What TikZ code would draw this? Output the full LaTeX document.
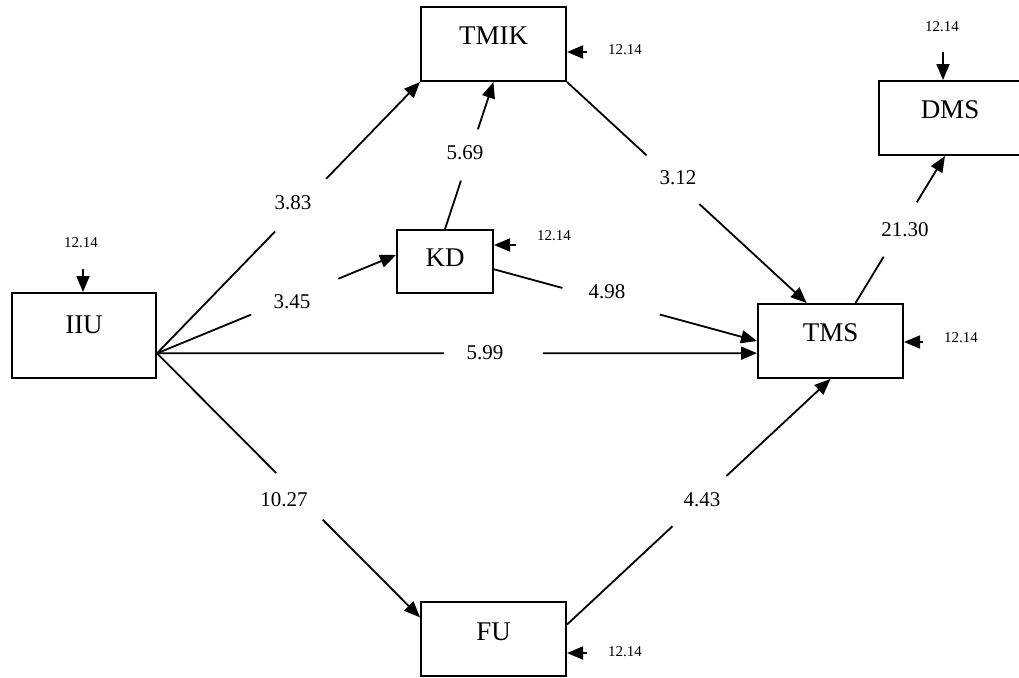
\documentclass[tikz,border=0pt]{standalone}
\usepackage{fontspec}
\setmainfont{Liberation Serif}
\usetikzlibrary{arrows.meta,calc}
\begin{document}
\begin{tikzpicture}[x=1pt,y=-1pt,
  box/.style={draw, line width=2pt, rectangle, inner sep=0pt,
    minimum width=145pt, minimum height=74pt, text height=18pt,
    font=\fontsize{27}{27}\selectfont},
  tip/.style={-{Triangle[length=16pt,width=13pt]}},
  conn/.style={line width=1.8pt, tip},
  num/.style={inner sep=0pt, font=\fontsize{21}{21}\selectfont},
  err/.style={inner sep=0pt, font=\fontsize{15}{15}\selectfont}]
\useasboundingbox (0,0) rectangle (1019,677);

% variables
\node[box, text depth=16pt] (TMIK) at (493.5,44) {TMIK};
\node[box, text depth=16.6pt, minimum width=142pt] (DMS) at (950,118) {DMS};
\node[box, text depth=8pt, minimum width=96pt, minimum height=63pt] (KD) at (445,261.5) {KD};
\node[box, text depth=22pt, minimum width=144pt, minimum height=85pt] (IIU) at (84,335.5) {IIU};
\node[box, text depth=18pt] (TMS) at (830.5,341) {TMS};
\node[box, text depth=15.4pt] (FU) at (493.5,639) {FU};

% attachment points on the box edges
\coordinate (o) at ($(IIU.east)!0.41!(IIU.south east)$);
\coordinate (kdIn) at ($(KD.west)!0.2!(KD.north west)$);
\coordinate (tmsInH) at ($(TMS.west)!0.32!(TMS.south west)$);
\coordinate (fuIn) at ($(FU.north west)!0.43!(FU.west)$);
\coordinate (tmsInTop) at ($(TMS.north west)!0.676!(TMS.north)$);
\coordinate (kdOut) at ($(KD.east)!0.24!(KD.south east)$);
\coordinate (fuOut) at ($(FU.east)!0.38!(FU.north east)$);
\coordinate (tmsOut) at ($(TMS.north)!0.34!(TMS.north east)$);
\coordinate (dmsIn) at ($(DMS.south west)!0.93!(DMS.south)$);

% path coefficients (each line is broken where its value sits)
\draw[conn] (o) -- ($(o)!0.449!(TMIK.south west)$) ($(o)!0.643!(TMIK.south west)$) -- (TMIK.south west);
\node[num] (l383) at (293,203) {3.83};

\draw[conn] (o) -- ($(o)!0.394!(kdIn)$) ($(o)!0.759!(kdIn)$) -- (kdIn);
\node[num] (l345) at (292,302) {3.45};

\draw[conn] (o) -- ($(o)!0.478!(tmsInH)$) ($(o)!0.643!(tmsInH)$) -- (tmsInH);
\node[num] (l599) at (485,353) {5.99};

\draw[conn] (o) -- ($(o)!0.453!(fuIn)$) ($(o)!0.63!(fuIn)$) -- (fuIn);
\node[num] (l1027) at (284,500) {10.27};

\draw[conn] (KD.north) -- ($(KD.north)!0.329!(TMIK.south)$) ($(KD.north)!0.678!(TMIK.south)$) -- (TMIK.south);
\node[num] (l569) at (465,153) {5.69};

\draw[conn] (TMIK.south east) -- ($(TMIK.south east)!0.332!(tmsInTop)$) ($(TMIK.south east)!0.552!(tmsInTop)$) -- (tmsInTop);
\node[num] (l312) at (678,178) {3.12};

\draw[conn] (kdOut) -- ($(kdOut)!0.26!(TMS.west)$) ($(kdOut)!0.63!(TMS.west)$) -- (TMS.west);
\node[num] (l498) at (607,292) {4.98};

\draw[conn] (fuOut) -- ($(fuOut)!0.4!(TMS.south)$) ($(fuOut)!0.605!(TMS.south)$) -- (TMS.south);
\node[num] (l443) at (702,500) {4.43};

\draw[conn] (tmsOut) -- ($(tmsOut)!0.315!(dmsIn)$) ($(tmsOut)!0.685!(dmsIn)$) -- (dmsIn);
\node[num] (l2130) at (905,230) {21.30};

% error terms
\coordinate (dTMIK) at (587,52);
\coordinate (dDMS) at (943,52);
\coordinate (dKD) at (516,245);
\coordinate (dIIU) at (83,269);
\coordinate (dTMS) at (923,342);
\coordinate (dFU) at (587,653);
\draw[conn] (dTMIK) -- (dTMIK -| TMIK.east);
\draw[conn] (dDMS) -- (dDMS |- DMS.north);
\draw[conn] (dKD) -- (dKD -| KD.east);
\draw[conn] (dIIU) -- (dIIU |- IIU.north);
\draw[conn] (dTMS) -- (dTMS -| TMS.east);
\draw[conn] (dFU) -- (dFU -| FU.east);
\node[err] (eTMIK) at (625,50) {12.14};
\node[err] (eDMS) at (942,27) {12.14};
\node[err] (eKD) at (554,236) {12.14};
\node[err] (eIIU) at (81,243) {12.14};
\node[err] (eTMS) at (961,338) {12.14};
\node[err] (eFU) at (625,652) {12.14};
\end{tikzpicture}
\end{document}
